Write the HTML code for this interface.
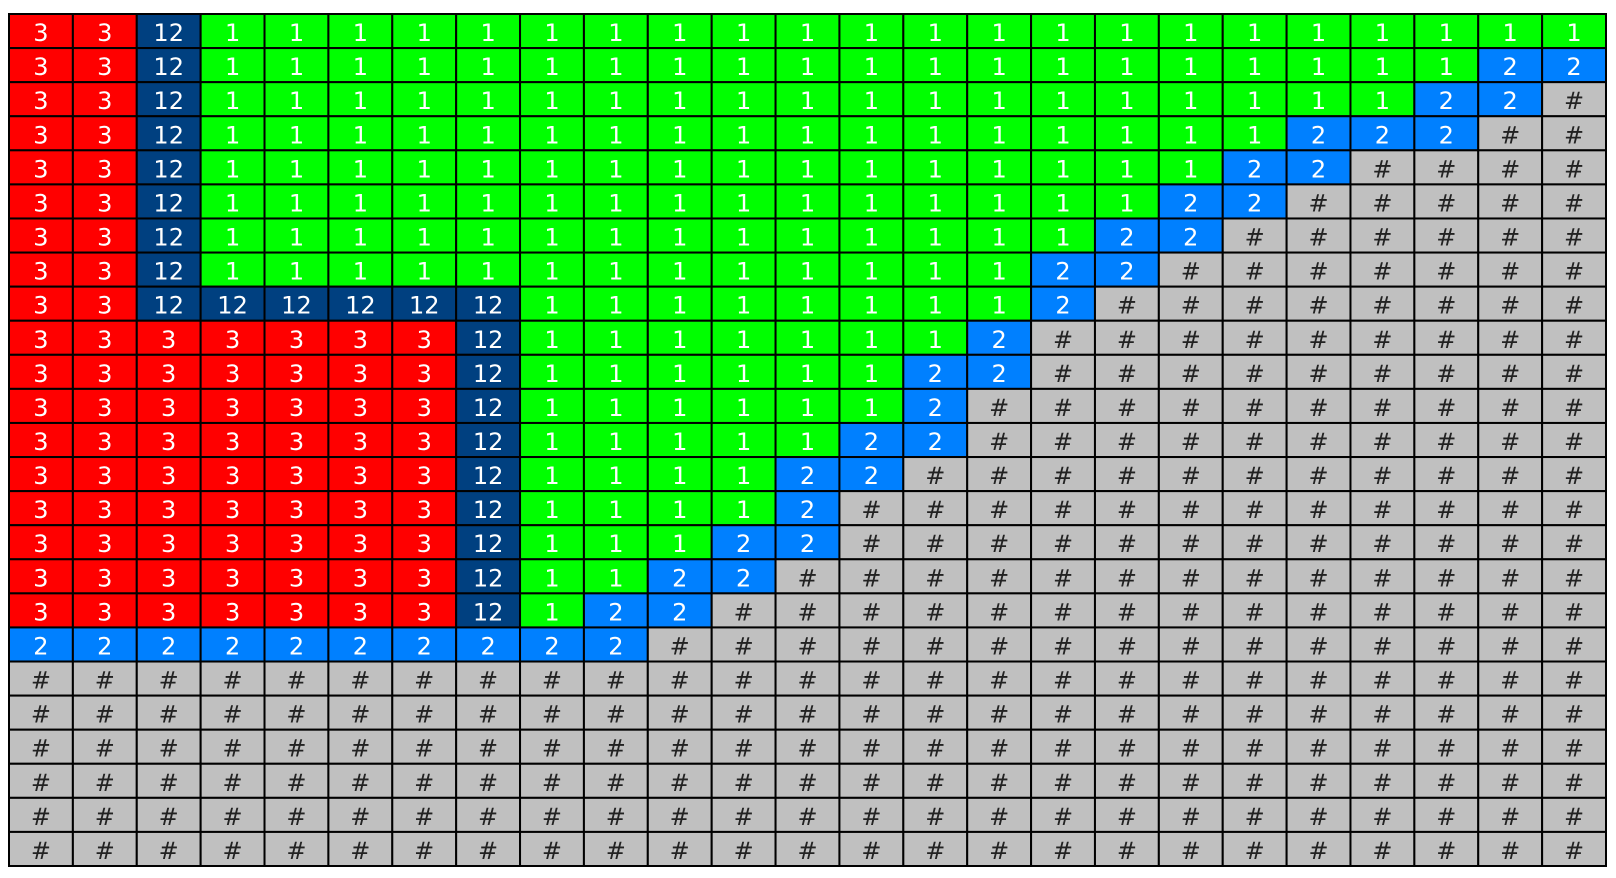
<!DOCTYPE html>
<html><head><meta charset="utf-8"><style>
html,body{margin:0;padding:0;background:#fff;width:1616px;height:878px;overflow:hidden}
svg{position:absolute;left:0;top:0}
text{font-family:"DejaVu Sans","Liberation Sans",sans-serif;font-size:24px;text-anchor:middle;dominant-baseline:central}
</style></head><body>
<svg id="chart" width="1616" height="878"></svg>
<script>
const rows = [
"3,3,12,1,1,1,1,1,1,1,1,1,1,1,1,1,1,1,1,1,1,1,1,1,1",
"3,3,12,1,1,1,1,1,1,1,1,1,1,1,1,1,1,1,1,1,1,1,1,2,2",
"3,3,12,1,1,1,1,1,1,1,1,1,1,1,1,1,1,1,1,1,1,1,2,2,#",
"3,3,12,1,1,1,1,1,1,1,1,1,1,1,1,1,1,1,1,1,2,2,2,#,#",
"3,3,12,1,1,1,1,1,1,1,1,1,1,1,1,1,1,1,1,2,2,#,#,#,#",
"3,3,12,1,1,1,1,1,1,1,1,1,1,1,1,1,1,1,2,2,#,#,#,#,#",
"3,3,12,1,1,1,1,1,1,1,1,1,1,1,1,1,1,2,2,#,#,#,#,#,#",
"3,3,12,1,1,1,1,1,1,1,1,1,1,1,1,1,2,2,#,#,#,#,#,#,#",
"3,3,12,12,12,12,12,12,1,1,1,1,1,1,1,1,2,#,#,#,#,#,#,#,#",
"3,3,3,3,3,3,3,12,1,1,1,1,1,1,1,2,#,#,#,#,#,#,#,#,#",
"3,3,3,3,3,3,3,12,1,1,1,1,1,1,2,2,#,#,#,#,#,#,#,#,#",
"3,3,3,3,3,3,3,12,1,1,1,1,1,1,2,#,#,#,#,#,#,#,#,#,#",
"3,3,3,3,3,3,3,12,1,1,1,1,1,2,2,#,#,#,#,#,#,#,#,#,#",
"3,3,3,3,3,3,3,12,1,1,1,1,2,2,#,#,#,#,#,#,#,#,#,#,#",
"3,3,3,3,3,3,3,12,1,1,1,1,2,#,#,#,#,#,#,#,#,#,#,#,#",
"3,3,3,3,3,3,3,12,1,1,1,2,2,#,#,#,#,#,#,#,#,#,#,#,#",
"3,3,3,3,3,3,3,12,1,1,2,2,#,#,#,#,#,#,#,#,#,#,#,#,#",
"3,3,3,3,3,3,3,12,1,2,2,#,#,#,#,#,#,#,#,#,#,#,#,#,#",
"2,2,2,2,2,2,2,2,2,2,#,#,#,#,#,#,#,#,#,#,#,#,#,#,#",
"#,#,#,#,#,#,#,#,#,#,#,#,#,#,#,#,#,#,#,#,#,#,#,#,#",
"#,#,#,#,#,#,#,#,#,#,#,#,#,#,#,#,#,#,#,#,#,#,#,#,#",
"#,#,#,#,#,#,#,#,#,#,#,#,#,#,#,#,#,#,#,#,#,#,#,#,#",
"#,#,#,#,#,#,#,#,#,#,#,#,#,#,#,#,#,#,#,#,#,#,#,#,#",
"#,#,#,#,#,#,#,#,#,#,#,#,#,#,#,#,#,#,#,#,#,#,#,#,#",
"#,#,#,#,#,#,#,#,#,#,#,#,#,#,#,#,#,#,#,#,#,#,#,#,#"
];
const fills = {"3":"#ff0000","12":"#004080","1":"#00ff00","2":"#0080ff","#":"#c0c0c0"};
const svg = document.getElementById('chart');
const NS = "http://www.w3.org/2000/svg";
const x0 = 9, y0 = 14, x1 = 1606, y1 = 866;
const grid = rows.map(r => r.split(','));
const nr = grid.length, nc = grid[0].length;
const cw = (x1 - x0) / nc, ch = (y1 - y0) / nr;
grid.forEach((row, r) => row.forEach((v, c) => {
  const g = document.createElementNS(NS, 'g');
  
  
  const rect = document.createElementNS(NS, 'rect');
  rect.setAttribute('x', x0 + c * cw); rect.setAttribute('y', y0 + r * ch);
  rect.setAttribute('width', cw); rect.setAttribute('height', ch);
  rect.setAttribute('fill', fills[v]); rect.setAttribute('stroke', '#000'); rect.setAttribute('stroke-width', '2');
  const t = document.createElementNS(NS, 'text');
  t.setAttribute('x', x0 + (c + 0.5) * cw); t.setAttribute('y', y0 + (r + 0.5) * ch + 2);
  t.setAttribute('fill', v === '#' ? '#222' : '#fff');
  t.textContent = v;
  g.appendChild(rect); g.appendChild(t); svg.appendChild(g);
}));
</script>
</body></html>
